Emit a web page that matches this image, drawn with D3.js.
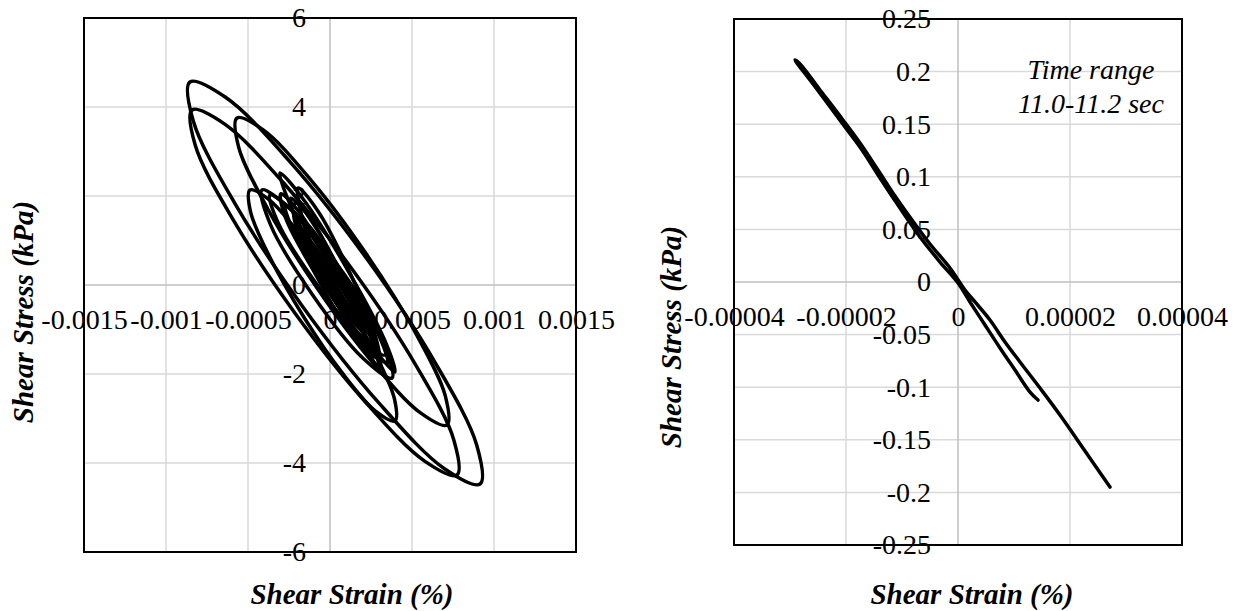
<!DOCTYPE html>
<html>
<head>
<meta charset="utf-8">
<script src="https://cdn.jsdelivr.net/npm/d3@7"></script>
</head>
<body style="margin:0">
<svg id="fig" width="1234" height="611"></svg>
<script>
// left panel: hysteresis loops, [strain %, stress kPa]
let loopA = [[0.000915,-4.472],[0.000895,-3.602],[0.000643,-1.755],[0.000228,0.571],[-0.000241,2.757],[-0.000637,4.218],
  [-0.000854,4.562],[-0.000834,3.692],[-0.000582,1.845],[-0.000167,-0.481],[0.000302,-2.667],[0.000698,-4.128]]
let loopB = [[0.000774,-4.270],[0.000755,-3.481],[0.000524,-1.807],[0.000144,0.308],[-0.000284,2.297],[-0.000644,3.620],
  [-0.000841,3.933],[-0.000822,3.144],[-0.000591,1.470],[-0.000211,-0.645],[0.000217,-2.634],[0.000577,-3.957]]
let loopC = [[0.000713,-3.146],[0.000703,-2.492],[0.000524,-1.094],[0.000224,0.683],[-0.000116,2.357],[-0.000405,3.481],
  [-0.000567,3.753],[-0.000557,3.099],[-0.000378,1.701],[-0.000078,-0.076],[0.000262,-1.751],[0.000552,-2.874]]
let loopD = [[0.000396,-3.056],[0.000394,-2.578],[0.000274,-1.533],[0.000068,-0.198],[-0.000169,1.065],[-0.000372,1.917],
  [-0.000488,2.135],[-0.000485,1.654],[-0.000365,0.611],[-0.000159,-0.724],[0.000077,-1.987],[0.000280,-2.840]]
let loopE = [[0.000396,-1.955],[0.000331,-1.220],[0.000099,0.393],[-0.000165,1.939],[-0.000305,2.517],[-0.000240,1.782],[-0.000007,0.169],[0.000257,-1.378]]
let loopF = [[0.000305,-1.843],[0.000279,-1.175],[0.000121,0.281],[-0.000075,1.670],[-0.000195,2.180],[-0.000169,1.512],[-0.000012,0.056],[0.000185,-1.333]]
let loopG = [[0.000335,-1.573],[0.000282,-0.917],[0.000054,0.409],[-0.000215,1.627],[-0.000366,2.022],[-0.000312,1.366],[-0.000085,0.040],[0.000184,-1.178]]
let loopH = [[0.000378,-2.090],[0.000326,-1.310],[0.000072,0.252],[-0.000235,1.679],[-0.000415,2.135],[-0.000363,1.355],[-0.000109,-0.207],[0.000198,-1.634]]
let loopI = [[0.000256,-1.348],[0.000212,-0.811],[0.000037,0.330],[-0.000164,1.413],[-0.000274,1.798],[-0.000230,1.261],[-0.000055,0.117],[0.000146,-0.964]]
let loopJ = [[0.000195,-1.011],[0.000157,-0.613],[0.000022,0.240],[-0.000132,1.054],[-0.000213,1.348],[-0.000176,0.951],[-0.000040,0.097],[0.000113,-0.717]]
let loopK = [[0.000290,-1.650],[0.000240,-1.000],[0.000080,0.150],[-0.000110,1.450],[-0.000240,1.950],[-0.000200,1.350],[-0.000030,0.100],[0.000160,-1.150]]
let loopL = [[0.000230,-1.450],[0.000190,-0.850],[0.000010,0.420],[-0.000180,1.600],[-0.000300,2.050],[-0.000270,1.500],[-0.000090,0.250],[0.000110,-1.000]]
let loopM = [[0.000160,-0.800],[0.000130,-0.450],[0.000000,0.300],[-0.000110,0.900],[-0.000170,1.100],[-0.000140,0.750],[-0.000030,0.050],[0.000090,-0.550]]
let loopN = [[0.000300,-1.900],[0.000250,-1.200],[0.000060,0.100],[-0.000130,1.200],[-0.000220,1.600],[-0.000190,1.150],[-0.000020,-0.050],[0.000200,-1.300]]
let loopO = [[0.000270,-1.200],[0.000220,-0.750],[0.000090,0.050],[-0.000060,1.000],[-0.000150,1.400],[-0.000120,0.950],[0.000000,0.000],[0.000170,-0.800]]
let loopP = [[0.000350,-1.750],[0.000300,-1.150],[0.000120,-0.050],[-0.000080,1.250],[-0.000180,1.750],[-0.000150,1.250],[0.000020,-0.200],[0.000230,-1.400]]
let leftLoops = [loopA, loopB, loopC, loopD, loopE, loopF, loopG, loopH, loopI, loopJ, loopK, loopL, loopM, loopN, loopO, loopP]

let leftXTicks = [-0.0015, -0.001, -0.0005, 0, 0.0005, 0.001, 0.0015]
let leftXLabels = ["-0.0015", "-0.001", "-0.0005", "0", "0.0005", "0.001", "0.0015"]
let leftYTicks = [-6, -4, -2, 0, 2, 4, 6]
let leftYLabels = ["-6", "-4", "-2", "0", "2", "4", "6"]

// right panel: time range 11.0-11.2 sec
let rightPath = [
  [1.429e-5,-0.1122],[1.286e-5,-0.1046],[1.018e-5,-0.0837],[7.50e-6,-0.0627],[4.82e-6,-0.0409],[2.14e-6,-0.0190],
  [0,-0.0010],[-3.21e-6,0.0190],[-6.79e-6,0.0428],[-1.036e-5,0.0703],[-1.393e-5,0.0989],[-1.714e-5,0.1255],
  [-2.018e-5,0.1473],[-2.375e-5,0.1730],[-2.643e-5,0.1920],[-2.911e-5,0.2110],
  [-2.821e-5,0.2072],[-2.464e-5,0.1825],[-2.054e-5,0.1540],[-1.750e-5,0.1321],[-1.429e-5,0.1065],[-1.125e-5,0.0817],
  [-8.21e-6,0.0589],[-5.00e-6,0.0361],[-1.43e-6,0.0133],[1.25e-6,-0.0076],[3.04e-6,-0.0190],[5.71e-6,-0.0361],
  [8.39e-6,-0.0570],[1.107e-5,-0.0760],[1.464e-5,-0.1008],[1.821e-5,-0.1264],[2.268e-5,-0.1606],[2.714e-5,-0.1949]
]
let rightXTicks = [-0.00004, -0.00002, 0, 0.00002, 0.00004]
let rightXLabels = ["-0.00004", "-0.00002", "0", "0.00002", "0.00004"]
let rightYTicks = [-0.25, -0.2, -0.15, -0.1, -0.05, 0, 0.05, 0.1, 0.15, 0.2, 0.25]
let rightYLabels = ["-0.25", "-0.2", "-0.15", "-0.1", "-0.05", "0", "0.05", "0.1", "0.15", "0.2", "0.25"]

let xTitle = "Shear Strain (%)"
let yTitle = "Shear Stress (kPa)"
let note = ["Time range", "11.0-11.2 sec"]

let svg = d3.select("#fig")
let serifText = sel => sel.style("font-family", "Liberation Serif", "important").style("fill", "#000")

function drawPanel (cfg) {
  let x = d3.scaleLinear().domain(cfg.xDomain).range([cfg.left, cfg.right])
  let y = d3.scaleLinear().domain(cfg.yDomain).range([cfg.bottom, cfg.top])
  let g = svg.append("g")

  // grid
  g.selectAll("line.gx").data(cfg.xTicks.filter(d => d !== 0)).enter().append("line")
    .attr("x1", d => x(d)).attr("x2", d => x(d)).attr("y1", cfg.top).attr("y2", cfg.bottom)
    .style("stroke", "#d9d9d9").style("stroke-width", 1.5)
  g.selectAll("line.gy").data(cfg.yTicks.filter(d => d !== 0)).enter().append("line")
    .attr("y1", d => y(d)).attr("y2", d => y(d)).attr("x1", cfg.left).attr("x2", cfg.right)
    .style("stroke", "#d9d9d9").style("stroke-width", 1.5)

  // zero axes
  g.append("line").attr("x1", x(0)).attr("x2", x(0)).attr("y1", cfg.top).attr("y2", cfg.bottom)
    .style("stroke", "#bfbfbf").style("stroke-width", 1.5)
  g.append("line").attr("y1", y(0)).attr("y2", y(0)).attr("x1", cfg.left).attr("x2", cfg.right)
    .style("stroke", "#bfbfbf").style("stroke-width", 1.5)

  g.append("rect").attr("x", cfg.left).attr("y", cfg.top)
    .attr("width", cfg.right - cfg.left).attr("height", cfg.bottom - cfg.top)
    .style("fill", "none").style("stroke", "#000").style("stroke-width", 2)

  // data
  cfg.draw(g, x, y)

  // tick labels sit on the zero axes
  let xAxis = d3.axisBottom(x).tickValues(cfg.xTicks).tickSize(0).tickPadding(24)
    .tickFormat((d, i) => cfg.xLabels[i])
  let yAxis = d3.axisLeft(y).tickValues(cfg.yTicks).tickSize(0).tickPadding(cfg.yPad)
    .tickFormat((d, i) => cfg.yLabels[i])

  let gx = g.append("g").attr("transform", `translate(0,${y(0)})`).call(xAxis)
  gx.select(".domain").remove()
  gx.attr("font-family", "Liberation Serif").attr("font-size", 28)
  gx.selectAll("text").call(serifText).style("font-size", "28px")

  let gy = g.append("g").attr("transform", `translate(${x(0)},0)`).call(yAxis)
  gy.select(".domain").remove()
  gy.attr("font-family", "Liberation Serif").attr("font-size", 28)
  gy.selectAll("text").call(serifText).style("font-size", "28px")

  // axis titles straight on the svg
  svg.append("text").attr("x", cfg.xTitleX).attr("y", 604).attr("text-anchor", "middle")
    .call(serifText).style("font-size", "29px").style("font-weight", "bold").style("font-style", "italic")
    .text(xTitle)
  svg.append("text").attr("transform", `translate(${cfg.yTitleX},${cfg.yTitleY}) rotate(-90)`)
    .attr("text-anchor", "middle")
    .call(serifText).style("font-size", "29px").style("font-weight", "bold").style("font-style", "italic")
    .text(yTitle)
}

let closedLine = (x, y) => d3.line().x(d => x(d[0])).y(d => y(d[1])).curve(d3.curveCatmullRomClosed.alpha(0.5))

drawPanel({
  left: 84, right: 576, top: 18, bottom: 552,
  xDomain: [-0.0015, 0.0015], yDomain: [-6, 6],
  xTicks: leftXTicks, xLabels: leftXLabels, yTicks: leftYTicks, yLabels: leftYLabels,
  yPad: 24, xTitleX: 352, yTitleX: 33, yTitleY: 312,
  draw: (g, x, y) => {
    g.selectAll("path.loop").data(leftLoops).enter().append("path").classed("loop", true)
      .attr("d", d => closedLine(x, y)(d))
      .style("fill", "none").style("stroke", "#000").style("stroke-width", 3.5)
  }
})

drawPanel({
  left: 734, right: 1182, top: 19, bottom: 545,
  xDomain: [-0.00004, 0.00004], yDomain: [-0.25, 0.25],
  xTicks: rightXTicks, xLabels: rightXLabels, yTicks: rightYTicks, yLabels: rightYLabels,
  yPad: 27, xTitleX: 972, yTitleX: 681, yTitleY: 337,
  draw: (g, x, y) => {
    g.append("path").datum(rightPath)
      .attr("d", d3.line().x(d => x(d[0])).y(d => y(d[1])).curve(d3.curveCatmullRom.alpha(0.5)))
      .style("fill", "none").style("stroke", "#000").style("stroke-width", 3.5)
      .style("stroke-linecap", "round").style("stroke-linejoin", "round")
  }
})

svg.selectAll("text.note").data(note).enter().append("text").classed("note", true)
  .attr("x", 1091).attr("y", (d, i) => 79 + i * 34).attr("text-anchor", "middle")
  .call(serifText).style("font-size", "28px").style("font-style", "italic")
  .text(d => d)
</script>
</body>
</html>
